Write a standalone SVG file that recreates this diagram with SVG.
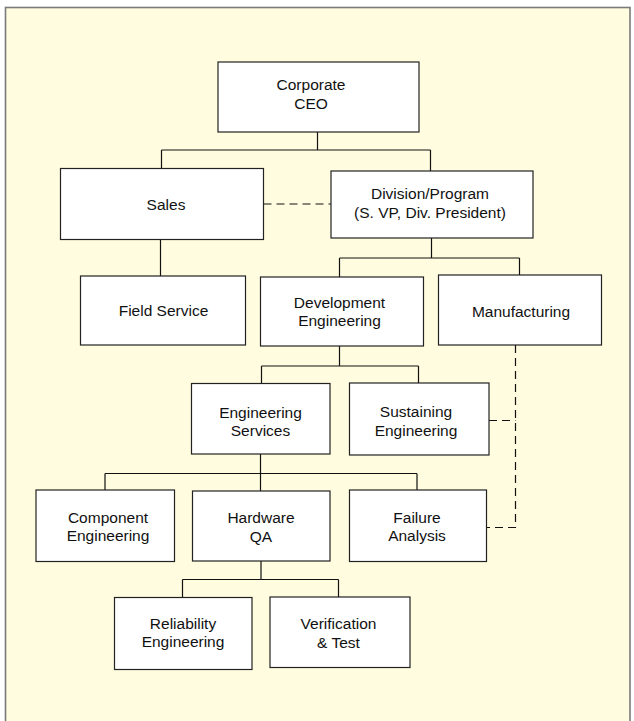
<svg xmlns="http://www.w3.org/2000/svg" width="634" height="721" viewBox="0 0 634 721">
<style>
.box{fill:#ffffff;stroke:#222;stroke-width:1.2}
.t{font-family:"Liberation Sans",Arial,Helvetica,sans-serif;font-size:15.5px;fill:#111;text-anchor:middle}
.c{fill:none;stroke:#111;stroke-width:1.2}
.d{fill:none;stroke:#111;stroke-width:1.2;stroke-dasharray:8 5}
</style>
<rect x="0" y="0" width="634" height="721" fill="#ffffff"/>
<rect x="5.5" y="7.5" width="624.5" height="730" fill="#fffcdf" stroke="#7a7a7a" stroke-width="1.6"/>
<g id="connectors">
<path class="c" d="M317.5 132V150M161.5 150H430.5M161.5 150V168.5M430.5 150V171"/>
<path class="c" d="M160.5 239.5V276"/>
<path class="c" d="M431.5 238V258M339.5 258H519.5M339.5 258V277M519.5 258V275"/>
<path class="c" d="M339.5 346V366M261.5 366H418.5M261.5 366V383.5M418.5 366V383"/>
<path class="c" d="M260.5 454V473.5M105 473.5H417M105 473.5V490M260.5 473.5V491M417 473.5V490"/>
<path class="c" d="M261 561V579.5M182.5 579.5H338.5M182.5 579.5V597.5M338.5 579.5V597"/>
<path class="d" d="M263.5 204H331"/>
<path class="d" d="M515.5 345V527.5H486.5"/>
<path class="d" d="M489 420.5H515.5"/>
</g>
<g id="ceo"><rect class="box" x="218" y="62" width="201" height="70"/><text class="t" x="311" y="89.5">Corporate</text><text class="t" x="311" y="108.5">CEO</text></g>
<g id="sales"><rect class="box" x="60.5" y="168.5" width="203" height="71"/><text class="t" x="166" y="209.5">Sales</text></g>
<g id="division"><rect class="box" x="331" y="171" width="202" height="67"/><text class="t" x="430" y="199">Division/Program</text><text class="t" x="430" y="218">(S. VP, Div. President)</text></g>
<g id="field-service"><rect class="box" x="80.5" y="276" width="165" height="69"/><text class="t" x="163.5" y="316">Field Service</text></g>
<g id="development-engineering"><rect class="box" x="260.5" y="277" width="163" height="69"/><text class="t" x="339.5" y="307.5">Development</text><text class="t" x="339.5" y="326">Engineering</text></g>
<g id="manufacturing"><rect class="box" x="438.5" y="275" width="163" height="70"/><text class="t" x="521" y="317">Manufacturing</text></g>
<g id="engineering-services"><rect class="box" x="191.5" y="383.5" width="138.5" height="70.5"/><text class="t" x="260.5" y="417.5">Engineering</text><text class="t" x="260.5" y="436">Services</text></g>
<g id="sustaining-engineering"><rect class="box" x="349.5" y="383" width="139.5" height="72"/><text class="t" x="416" y="416.5">Sustaining</text><text class="t" x="416" y="435.5">Engineering</text></g>
<g id="component-engineering"><rect class="box" x="36" y="490" width="138.5" height="71.5"/><text class="t" x="108" y="522.5">Component</text><text class="t" x="108" y="541">Engineering</text></g>
<g id="hardware-qa"><rect class="box" x="192.5" y="491" width="137.5" height="70"/><text class="t" x="261" y="523">Hardware</text><text class="t" x="261" y="542">QA</text></g>
<g id="failure-analysis"><rect class="box" x="349.5" y="490" width="137" height="71.5"/><text class="t" x="417" y="522.5">Failure</text><text class="t" x="417" y="541">Analysis</text></g>
<g id="reliability-engineering"><rect class="box" x="114.5" y="597.5" width="137.5" height="72"/><text class="t" x="183" y="629">Reliability</text><text class="t" x="183" y="647">Engineering</text></g>
<g id="verification-test"><rect class="box" x="270" y="597" width="140" height="70.5"/><text class="t" x="338.5" y="629">Verification</text><text class="t" x="338.5" y="647.5">&amp; Test</text></g>
</svg>
